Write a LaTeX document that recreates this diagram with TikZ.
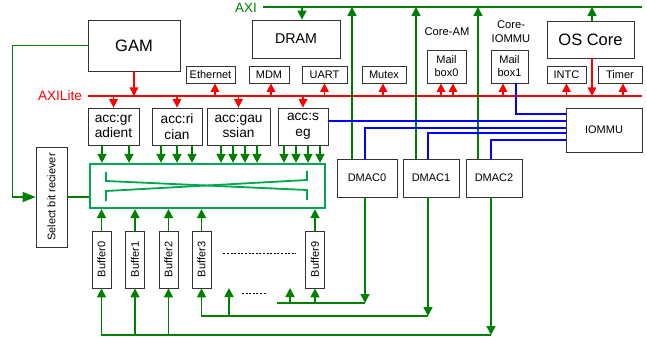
\documentclass[tikz,border=0pt]{standalone}
\usepackage{fontspec}
\setmainfont{Liberation Sans}
\usepackage{graphicx}
\usetikzlibrary{arrows.meta,calc,positioning}

\definecolor{axigreen}{RGB}{0,128,0}
\definecolor{xbargreen}{RGB}{0,166,80}
\definecolor{litered}{RGB}{255,0,0}
\definecolor{iomblue}{RGB}{0,0,255}

\begin{document}
\begin{tikzpicture}[x=1pt,y=-1pt]

\tikzset{box/.style = {draw=black!80,line width=0.8pt,inner sep=1pt,align=center,font=\fontsize{11}{13}\selectfont}}
\tikzset{accbox/.style = {box,minimum height=37pt,font=\fontsize{13.7}{15.7}\selectfont}}
\tikzset{bufbox/.style = {box,minimum width=19pt,minimum height=57pt}}
\tikzset{dmacbox/.style = {box,minimum height=38pt}}
\tikzset{gline/.style = {draw=axigreen,line width=1.5pt}}
\tikzset{gedge/.style = {gline,-{Triangle[length=9pt,width=9pt]}}}
\tikzset{redge/.style = {draw=litered,line width=1.5pt,-{Triangle[length=8.5pt,width=8.5pt]}}}
\tikzset{bline/.style = {draw=iomblue,line width=1.5pt}}
\tikzset{xline/.style = {draw=xbargreen,line width=1.8pt}}
\tikzset{dotline/.style = {draw=black,line width=1pt,dash pattern=on 2pt off 1.6pt}}

\useasboundingbox (0,0) rectangle (647,339);

% buses
\node[text=axigreen,inner sep=0pt,font=\fontsize{13.4}{14}\selectfont] (axi) at (246,7.5) {AXI};
\coordinate (axiend) at (642,7);
\node[text=litered,inner sep=0pt,font=\fontsize{13.6}{14}\selectfont] (lite) at (60,95.5) {AXILite};
\coordinate (liteend) at (642,96);
\draw[gline] ([xshift=6pt]axi.east |- axiend) -- (axiend);
\draw[litered,line width=1.5pt] ([xshift=6pt]lite.east |- liteend) -- (liteend);

% vertices
\node[box,minimum width=92pt,minimum height=51pt,font=\fontsize{16.5}{18}\selectfont] (gam) at (134,45.5) {GAM};
\node[box,minimum width=88pt,minimum height=38pt,font=\fontsize{14.2}{16}\selectfont] (dram) at (296,39) {DRAM};
\node[box,minimum width=87pt,minimum height=37pt,font=\fontsize{16.5}{18}\selectfont] (oscore) at (590.5,39.5) {OS Core};
\node[box,minimum width=49pt,minimum height=17pt] (eth) at (210.5,74.5) {Ethernet};
\node[box,minimum width=40pt,minimum height=17pt] (mdm) at (269,74.5) {MDM};
\node[box,minimum width=45pt,minimum height=17pt] (uart) at (324.5,74.5) {UART};
\node[box,minimum width=44pt,minimum height=17pt] (mutex) at (384,74.5) {Mutex};
\node[box,minimum width=39pt,minimum height=33pt] (mbox0) at (446.5,66.5) {Mail\\box0};
\node[box,minimum width=37pt,minimum height=33pt] (mbox1) at (509.5,66.5) {Mail\\box1};
\node[box,minimum width=39pt,minimum height=17pt] (intc) at (566.5,74.5) {INTC};
\node[box,minimum width=44pt,minimum height=17pt] (timer) at (620,74.5) {Timer};
\node[align=center,inner sep=0pt,font=\fontsize{11.2}{13.3}\selectfont] (coream) at (447,32) {Core-AM};
\node[align=center,inner sep=0pt,font=\fontsize{11.2}{13.3}\selectfont] (coreiommu) at (511,31.5) {Core-\\IOMMU};

\node[accbox,minimum width=51pt] (accgrad) at (113.5,126.5) {acc:gr\\adient};
\node[accbox,minimum width=50pt] (accric) at (177,126.5) {acc:ri\\cian};
\node[accbox,minimum width=63pt] (accgau) at (238.5,126.5) {acc:gau\\ssian};
\node[accbox,minimum width=50pt] (accseg) at (303,126.5) {acc:s\\eg};

\node[draw=xbargreen,line width=2.2pt,minimum width=235pt,minimum height=44pt] (xbar) at (207.5,186) {};
\node[box,minimum width=31pt,minimum height=100pt] (sel) at (51.5,197) {\rotatebox{90}{Select bit reciever}};

\node[bufbox] (buf0) at (101.5,259.5) {\rotatebox{90}{Buffer0}};
\node[bufbox] (buf1) at (135,259.5) {\rotatebox{90}{Buffer1}};
\node[bufbox] (buf2) at (168.5,259.5) {\rotatebox{90}{Buffer2}};
\node[bufbox] (buf3) at (201.5,259.5) {\rotatebox{90}{Buffer3}};
\node[bufbox] (buf9) at (315,259.5) {\rotatebox{90}{Buffer9}};

\node[dmacbox,minimum width=60pt] (dmac0) at (367,178) {DMAC0};
\node[dmacbox,minimum width=56pt] (dmac1) at (431,178) {DMAC1};
\node[dmacbox,minimum width=56pt] (dmac2) at (494,178) {DMAC2};
\node[box,minimum width=76pt,minimum height=44pt] (iommu) at (604,130) {IOMMU};

% crossbar
\draw[xline] (106,172) -- (106,181) -- (307,190) -- (307,200);
\draw[xline] (106,201) -- (106,191) -- (307,180) -- (307,171);

%edges
\draw[redge] (gam.south) -- (gam.south |- liteend);
\foreach \n in {accgrad,accric,accgau,accseg}
  \draw[redge] (\n.north |- liteend) -- (\n.north);
\foreach \n/\dx in {eth/4.5pt,mdm/2pt,uart/0pt,mutex/-1pt,mbox0/-5.5pt,mbox0/6.5pt,mbox1/-6.5pt,intc/0pt,timer/3pt}
  \draw[redge] ([xshift=\dx]\n.south |- liteend) -- ([xshift=\dx]\n.south);
\draw[redge] ([xshift=1.5pt]oscore.south) -- ([xshift=1.5pt]oscore.south |- liteend);

\draw[gedge] ([xshift=1.5pt]oscore.north) -- ([xshift=1.5pt]oscore.north |- axiend);
\draw[gedge] ([xshift=6pt]dram.north |- axiend) -- ([xshift=6pt]dram.north);
\foreach \n/\dx in {dmac0/-15pt,dmac1/-15pt,dmac2/-16pt}
  \draw[gedge] ([xshift=\dx]\n.north) -- ([xshift=\dx]\n.north |- axiend);

% iommu links
\draw[bline] ([xshift=6.5pt]mbox1.south) |- ([yshift=16pt]iommu.west);
\draw[bline] ([yshift=5.5pt]accseg.east) -- ([yshift=9pt]iommu.west);
\draw[bline] ([xshift=-2pt]dmac0.north) |- ([yshift=2pt]iommu.west);
\draw[bline] ([xshift=-3pt]dmac1.north) |- ([yshift=-3pt]iommu.west);
\draw[bline] ([xshift=-3pt]dmac2.north) |- ([yshift=-10pt]iommu.west);

% select
\draw[gline,-{Triangle[length=13pt,width=10pt]}] (gam.west) -- ++(-75,0) |- (sel.west);
\draw[gline] (sel.east) -- (sel.east -| xbar.west);

% into crossbar
\foreach \dx in {-11.5pt,15.5pt}
  \draw[gedge] ([xshift=\dx]accgrad.south) -- ([xshift=\dx]accgrad.south |- xbar.north);
\foreach \dx in {-16pt,0pt,15pt}
  \draw[gedge] ([xshift=\dx]accric.south) -- ([xshift=\dx]accric.south |- xbar.north);
\foreach \dx in {-17.5pt,-5.5pt,6.5pt,18.5pt}
  \draw[gedge] ([xshift=\dx]accgau.south) -- ([xshift=\dx]accgau.south |- xbar.north);
\foreach \dx in {-19pt,-7pt,5pt,17pt}
  \draw[gedge] ([xshift=\dx]accseg.south) -- ([xshift=\dx]accseg.south |- xbar.north);
\foreach \n in {buf0,buf1,buf2,buf3,buf9}
  \draw[gedge] (\n.north) -- (\n.north |- xbar.south);

% dmac to buffers
\coordinate (bus0) at (277,303);
\coordinate (bus1) at (201.5,316);
\coordinate (bus2) at (101.5,335);
\coordinate (free0) at (290,288);
\coordinate (free1) at (229,288);

\draw[gedge] ([xshift=-2pt]dmac0.south) -- ([xshift=-2pt]dmac0.south |- bus0);
\draw[gline] ([xshift=-2pt]dmac0.south |- bus0) -- (bus0);
\draw[gedge] (free0 |- bus0) -- (free0);
\draw[gedge] (buf9.south |- bus0) -- (buf9.south);

\draw[gedge] ([xshift=-3pt]dmac1.south) -- ([xshift=-3pt]dmac1.south |- bus1);
\draw[gedge] ([xshift=-3pt]dmac1.south |- bus1) -| (buf3.south);
\draw[gedge] (free1 |- bus1) -- (free1);

\draw[gedge] ([xshift=-3pt]dmac2.south) -- ([xshift=-3pt]dmac2.south |- bus2);
\draw[gedge] ([xshift=-3pt]dmac2.south |- bus2) -| (buf0.south);
\foreach \n in {buf1,buf2}
  \draw[gedge] (\n.south |- bus2) -- (\n.south);

% dots
\draw[dotline] ([xshift=12pt,yshift=6.5pt]buf3.east) -- ([xshift=-9pt,yshift=6.5pt]buf9.west);
\draw[dotline] ([xshift=13pt,yshift=-5pt]free1) -- ([xshift=-24pt,yshift=-5pt]free0);

\end{tikzpicture}
\end{document}
